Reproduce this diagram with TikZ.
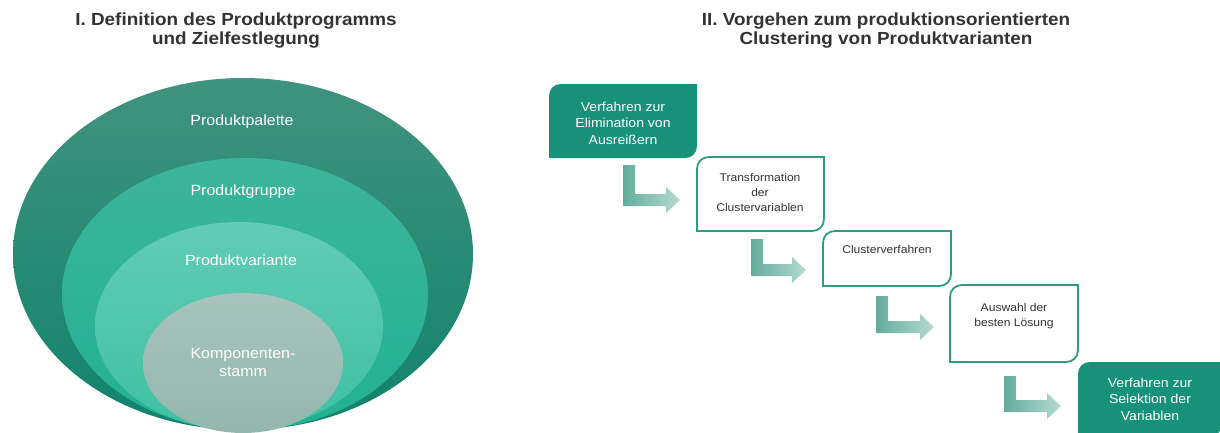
\documentclass[tikz,border=0pt]{standalone}
\usepackage{fontspec}
\setmainfont[FakeStretch=1.08]{Liberation Sans}
\usetikzlibrary{shapes.geometric}
\definecolor{ttl}{HTML}{333333}
\definecolor{boxteal}{HTML}{17917A}
\definecolor{boxline}{HTML}{2A9D83}
\definecolor{txtdark}{HTML}{333333}
\definecolor{eOa}{HTML}{40937E}
\definecolor{eOb}{HTML}{11836C}
\definecolor{eGa}{HTML}{3DB59B}
\definecolor{eGb}{HTML}{22B193}
\definecolor{eVa}{HTML}{62CCB4}
\definecolor{eVb}{HTML}{3EC1A4}
\definecolor{eKa}{HTML}{A8C4BC}
\definecolor{eKb}{HTML}{93B7AD}
\definecolor{arrA}{HTML}{4A9F8C}
\definecolor{arrB}{HTML}{A8D5CA}
\newcommand\blockarr[4]{%
  \path[arrowfill] (#1,#2) -- ({#1+12},#2) -- ({#1+12},{#3-6}) -- ({#4-14},{#3-6})
    -- ({#4-14},{#3-13}) -- (#4,#3) -- ({#4-14},{#3+13}) -- ({#4-14},{#3+6})
    -- (#1,{#3+6}) -- cycle;}
% left, top, right, bottom (pixel coordinates, y downwards), style
\newcommand\diagbox[5]{%
  \path[#5] (#1,#4) -- (#1,{#2+12})
    .. controls (#1,{#2+5}) and ({#1+5},#2) .. ({#1+12},#2)
    -- (#3,#2) -- (#3,{#4-12})
    .. controls (#3,{#4-5}) and ({#3-5},#4) .. ({#3-12},#4)
    -- cycle;}
\begin{document}
\begin{tikzpicture}[x=1pt,y=-1pt,
  titlestyle/.style={font=\fontsize{17.5}{19}\selectfont\bfseries, text=ttl, align=center, inner sep=0},
  ell/.style={ellipse, inner sep=0, draw=none},
  elltext/.style={font=\fontsize{14.8}{18}\selectfont, text=white, align=center, inner sep=0},
  filledbox/.style={fill=boxteal, draw=none},
  outlinebox/.style={fill=white, draw=boxline, line width=1.8pt},
  whitetext/.style={font=\fontsize{13}{16.5}\selectfont, text=white, align=center, inner sep=0},
  darktext/.style={font=\fontsize{11.2}{15}\selectfont, text=txtdark, align=center, inner sep=0},
  arrowfill/.style={left color=arrA, right color=arrB, opacity=0.85}]
\useasboundingbox (0,0) rectangle (1220,432);
\fill[white] (0,0) rectangle (1220,432);
\clip (0,0) rectangle (1220,432);

% titles
\node[titlestyle] (title1) at (236,31) {I. Definition des Produktprogramms\\und Zielfestlegung};
\node[titlestyle] (title2) at (886,31) {II. Vorgehen zum produktionsorientierten\\Clustering von Produktvarianten};

% nested ellipses
\node[ell, minimum width=460pt, minimum height=352pt, top color=eOa, bottom color=eOb] (palette) at (243,254) {};
\node[ell, minimum width=366pt, minimum height=272pt, top color=eGa, bottom color=eGb] (gruppe) at (245,294) {};
\node[ell, minimum width=288pt, minimum height=208pt, top color=eVa, bottom color=eVb] (variante) at (239,326) {};
\node[ell, minimum width=200pt, minimum height=140pt, top color=eKa, bottom color=eKb] (stamm) at (243,363) {};

\node[elltext] (lpalette) at (242,122) {Produktpalette};
\node[elltext] (lgruppe) at (243,192) {Produktgruppe};
\node[elltext] (lvariante) at (241,260) {Produktvariante};
\node[elltext] (lstamm) at (243,362) {Komponenten-\\stamm};

% process boxes (rounded top-left and bottom-right corners)
\diagbox{549}{84}{697}{158}{filledbox}
\diagbox{697}{157}{824}{231}{outlinebox}
\diagbox{823}{231}{951}{286}{outlinebox}
\diagbox{950}{285}{1078}{362}{outlinebox}
\diagbox{1078}{362}{1222}{436}{filledbox}

\node[whitetext] (t1) at (623,123) {Verfahren zur\\Elimination von\\Ausreißern};
\node[darktext] (t2) at (760,192) {Transformation\\der\\Clustervariablen};
\node[darktext] (t3) at (887,249) {Clusterverfahren};
\node[darktext] (t4) at (1014,316) {Auswahl der\\besten Lösung};
\node[whitetext] (t5) at (1150,399) {Verfahren zur\\Selektion der\\Variablen};

% bent block arrows
\blockarr{623}{165}{200}{680}
\blockarr{751}{239}{270}{806}
\blockarr{876}{296}{327}{934}
\blockarr{1004}{376}{406}{1061}
\end{tikzpicture}
\end{document}
